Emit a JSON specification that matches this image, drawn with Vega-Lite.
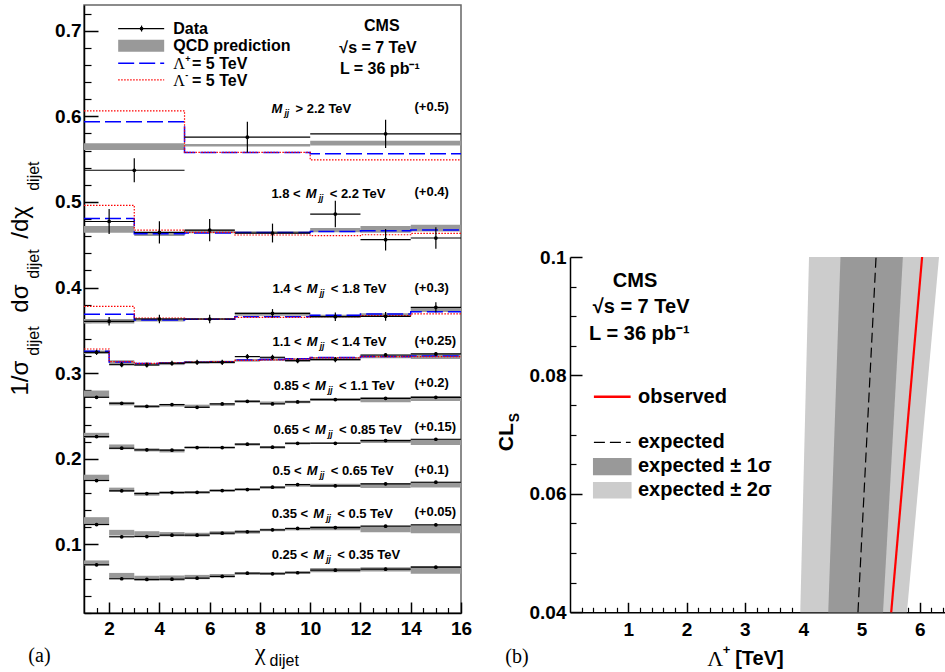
{
"$schema": "https://vega.github.io/schema/vega-lite/v6.json",
"padding": {"left": 8, "top": 4, "right": 0, "bottom": 0},
"bounds": "flush",
"spacing": 109,
"config": {
  "view": {"stroke": null},
  "axis": {"labelFont": "Liberation Sans", "labelFontWeight": "bold", "labelColor": "black", "grid": false, "tickColor": "black", "tickWidth": 1.2, "domainColor": "black", "domainWidth": 1.5, "labelFlush": false, "labelOverlap": false, "zindex": 1}
},
"datasets": {
  "chi": [
    {"bin":"gt2.2","lo":1,"hi":5,"mid":3,"val":0.537,"errLo":0.523,"errHi":0.551,"qcdLo":0.5606,"qcdHi":0.5686},
    {"bin":"gt2.2","lo":5,"hi":10,"mid":7.5,"val":0.5757,"errLo":0.5577,"errHi":0.5937,"qcdLo":0.5647,"qcdHi":0.5677},
    {"bin":"gt2.2","lo":10,"hi":16,"mid":13,"val":0.5796,"errLo":0.5631,"errHi":0.5961,"qcdLo":0.566,"qcdHi":0.5714},
    {"bin":"1.8-2.2","lo":1,"hi":3,"mid":2,"val":0.4772,"errLo":0.4626,"errHi":0.4918,"qcdLo":0.464,"qcdHi":0.472},
    {"bin":"1.8-2.2","lo":3,"hi":5,"mid":4,"val":0.4644,"errLo":0.4514,"errHi":0.4774,"qcdLo":0.4602,"qcdHi":0.4638},
    {"bin":"1.8-2.2","lo":5,"hi":7,"mid":6,"val":0.4672,"errLo":0.4542,"errHi":0.4802,"qcdLo":0.4636,"qcdHi":0.4676},
    {"bin":"1.8-2.2","lo":7,"hi":10,"mid":8.5,"val":0.4637,"errLo":0.4527,"errHi":0.4747,"qcdLo":0.4632,"qcdHi":0.4658},
    {"bin":"1.8-2.2","lo":10,"hi":12,"mid":11,"val":0.4859,"errLo":0.4704,"errHi":0.5014,"qcdLo":0.4645,"qcdHi":0.4695},
    {"bin":"1.8-2.2","lo":12,"hi":14,"mid":13,"val":0.4559,"errLo":0.4434,"errHi":0.4684,"qcdLo":0.464,"qcdHi":0.472},
    {"bin":"1.8-2.2","lo":14,"hi":16,"mid":15,"val":0.4579,"errLo":0.4454,"errHi":0.4704,"qcdLo":0.4655,"qcdHi":0.4735},
    {"bin":"1.4-1.8","lo":1,"hi":3,"mid":2,"val":0.3606,"errLo":0.3556,"errHi":0.3656,"qcdLo":0.3582,"qcdHi":0.3632},
    {"bin":"1.4-1.8","lo":3,"hi":5,"mid":4,"val":0.3633,"errLo":0.3583,"errHi":0.3683,"qcdLo":0.3605,"qcdHi":0.3645},
    {"bin":"1.4-1.8","lo":5,"hi":7,"mid":6,"val":0.3633,"errLo":0.3583,"errHi":0.3683,"qcdLo":0.3623,"qcdHi":0.3643},
    {"bin":"1.4-1.8","lo":7,"hi":10,"mid":8.5,"val":0.3699,"errLo":0.3649,"errHi":0.3749,"qcdLo":0.367,"qcdHi":0.371},
    {"bin":"1.4-1.8","lo":10,"hi":12,"mid":11,"val":0.366,"errLo":0.361,"errHi":0.371,"qcdLo":0.3647,"qcdHi":0.3683},
    {"bin":"1.4-1.8","lo":12,"hi":14,"mid":13,"val":0.3664,"errLo":0.3614,"errHi":0.3714,"qcdLo":0.366,"qcdHi":0.37},
    {"bin":"1.4-1.8","lo":14,"hi":16,"mid":15,"val":0.3769,"errLo":0.3709,"errHi":0.3829,"qcdLo":0.3715,"qcdHi":0.3765},
    {"bin":"1.1-1.4","lo":1,"hi":2,"mid":1.5,"val":0.3244,"errLo":0.3214,"errHi":0.3274,"qcdLo":0.3225,"qcdHi":0.3265},
    {"bin":"1.1-1.4","lo":2,"hi":3,"mid":2.5,"val":0.31,"errLo":0.307,"errHi":0.313,"qcdLo":0.3108,"qcdHi":0.3152},
    {"bin":"1.1-1.4","lo":3,"hi":4,"mid":3.5,"val":0.3096,"errLo":0.3066,"errHi":0.3126,"qcdLo":0.309,"qcdHi":0.312},
    {"bin":"1.1-1.4","lo":4,"hi":5,"mid":4.5,"val":0.3116,"errLo":0.3086,"errHi":0.3146,"qcdLo":0.3095,"qcdHi":0.3125},
    {"bin":"1.1-1.4","lo":5,"hi":6,"mid":5.5,"val":0.3127,"errLo":0.3097,"errHi":0.3157,"qcdLo":0.311,"qcdHi":0.314},
    {"bin":"1.1-1.4","lo":6,"hi":7,"mid":6.5,"val":0.3127,"errLo":0.3097,"errHi":0.3157,"qcdLo":0.3115,"qcdHi":0.3145},
    {"bin":"1.1-1.4","lo":7,"hi":8,"mid":7.5,"val":0.3194,"errLo":0.3164,"errHi":0.3224,"qcdLo":0.3135,"qcdHi":0.3165},
    {"bin":"1.1-1.4","lo":8,"hi":9,"mid":8.5,"val":0.3186,"errLo":0.3156,"errHi":0.3216,"qcdLo":0.3145,"qcdHi":0.3175},
    {"bin":"1.1-1.4","lo":9,"hi":10,"mid":9.5,"val":0.3147,"errLo":0.3117,"errHi":0.3177,"qcdLo":0.3135,"qcdHi":0.3175},
    {"bin":"1.1-1.4","lo":10,"hi":12,"mid":11,"val":0.3159,"errLo":0.3129,"errHi":0.3189,"qcdLo":0.315,"qcdHi":0.319},
    {"bin":"1.1-1.4","lo":12,"hi":14,"mid":13,"val":0.3213,"errLo":0.3193,"errHi":0.3233,"qcdLo":0.3175,"qcdHi":0.3215},
    {"bin":"1.1-1.4","lo":14,"hi":16,"mid":15,"val":0.3225,"errLo":0.3205,"errHi":0.3245,"qcdLo":0.3166,"qcdHi":0.3226},
    {"bin":"0.85-1.1","lo":1,"hi":2,"mid":1.5,"val":0.2719,"errLo":0.2704,"errHi":0.2734,"qcdLo":0.2718,"qcdHi":0.2798},
    {"bin":"0.85-1.1","lo":2,"hi":3,"mid":2.5,"val":0.2649,"errLo":0.2634,"errHi":0.2664,"qcdLo":0.2625,"qcdHi":0.2665},
    {"bin":"0.85-1.1","lo":3,"hi":4,"mid":3.5,"val":0.2614,"errLo":0.2599,"errHi":0.2629,"qcdLo":0.2595,"qcdHi":0.2625},
    {"bin":"0.85-1.1","lo":4,"hi":5,"mid":4.5,"val":0.2634,"errLo":0.2619,"errHi":0.2649,"qcdLo":0.261,"qcdHi":0.264},
    {"bin":"0.85-1.1","lo":5,"hi":6,"mid":5.5,"val":0.2602,"errLo":0.2587,"errHi":0.2617,"qcdLo":0.2597,"qcdHi":0.2633},
    {"bin":"0.85-1.1","lo":6,"hi":7,"mid":6.5,"val":0.2642,"errLo":0.2627,"errHi":0.2657,"qcdLo":0.262,"qcdHi":0.265},
    {"bin":"0.85-1.1","lo":7,"hi":8,"mid":7.5,"val":0.2672,"errLo":0.2657,"errHi":0.2687,"qcdLo":0.2655,"qcdHi":0.2685},
    {"bin":"0.85-1.1","lo":8,"hi":9,"mid":8.5,"val":0.2642,"errLo":0.2627,"errHi":0.2657,"qcdLo":0.264,"qcdHi":0.267},
    {"bin":"0.85-1.1","lo":9,"hi":10,"mid":9.5,"val":0.2665,"errLo":0.265,"errHi":0.268,"qcdLo":0.265,"qcdHi":0.268},
    {"bin":"0.85-1.1","lo":10,"hi":12,"mid":11,"val":0.2692,"errLo":0.2677,"errHi":0.2707,"qcdLo":0.268,"qcdHi":0.271},
    {"bin":"0.85-1.1","lo":12,"hi":14,"mid":13,"val":0.2707,"errLo":0.2692,"errHi":0.2722,"qcdLo":0.266,"qcdHi":0.272},
    {"bin":"0.85-1.1","lo":14,"hi":16,"mid":15,"val":0.2719,"errLo":0.2704,"errHi":0.2734,"qcdLo":0.2675,"qcdHi":0.2735},
    {"bin":"0.65-0.85","lo":1,"hi":2,"mid":1.5,"val":0.226,"errLo":0.2245,"errHi":0.2275,"qcdLo":0.2244,"qcdHi":0.2304},
    {"bin":"0.65-0.85","lo":2,"hi":3,"mid":2.5,"val":0.2124,"errLo":0.2109,"errHi":0.2139,"qcdLo":0.2112,"qcdHi":0.2168},
    {"bin":"0.65-0.85","lo":3,"hi":4,"mid":3.5,"val":0.2105,"errLo":0.209,"errHi":0.212,"qcdLo":0.2087,"qcdHi":0.2123},
    {"bin":"0.65-0.85","lo":4,"hi":5,"mid":4.5,"val":0.2101,"errLo":0.2086,"errHi":0.2116,"qcdLo":0.2075,"qcdHi":0.2115},
    {"bin":"0.65-0.85","lo":5,"hi":6,"mid":5.5,"val":0.2132,"errLo":0.2117,"errHi":0.2147,"qcdLo":0.2123,"qcdHi":0.2147},
    {"bin":"0.65-0.85","lo":6,"hi":7,"mid":6.5,"val":0.2132,"errLo":0.2117,"errHi":0.2147,"qcdLo":0.212,"qcdHi":0.2144},
    {"bin":"0.65-0.85","lo":7,"hi":8,"mid":7.5,"val":0.2171,"errLo":0.2156,"errHi":0.2186,"qcdLo":0.2155,"qcdHi":0.2185},
    {"bin":"0.65-0.85","lo":8,"hi":9,"mid":8.5,"val":0.2136,"errLo":0.2121,"errHi":0.2151,"qcdLo":0.212,"qcdHi":0.215},
    {"bin":"0.65-0.85","lo":9,"hi":10,"mid":9.5,"val":0.2182,"errLo":0.2167,"errHi":0.2197,"qcdLo":0.2168,"qcdHi":0.2192},
    {"bin":"0.65-0.85","lo":10,"hi":12,"mid":11,"val":0.2182,"errLo":0.2167,"errHi":0.2197,"qcdLo":0.2173,"qcdHi":0.2197},
    {"bin":"0.65-0.85","lo":12,"hi":14,"mid":13,"val":0.2214,"errLo":0.2199,"errHi":0.2229,"qcdLo":0.2185,"qcdHi":0.2225},
    {"bin":"0.65-0.85","lo":14,"hi":16,"mid":15,"val":0.2229,"errLo":0.2214,"errHi":0.2244,"qcdLo":0.2163,"qcdHi":0.2233},
    {"bin":"0.5-0.65","lo":1,"hi":2,"mid":1.5,"val":0.1747,"errLo":0.1732,"errHi":0.1762,"qcdLo":0.1745,"qcdHi":0.1815},
    {"bin":"0.5-0.65","lo":2,"hi":3,"mid":2.5,"val":0.1627,"errLo":0.1612,"errHi":0.1642,"qcdLo":0.1614,"qcdHi":0.1664},
    {"bin":"0.5-0.65","lo":3,"hi":4,"mid":3.5,"val":0.1595,"errLo":0.158,"errHi":0.161,"qcdLo":0.157,"qcdHi":0.161},
    {"bin":"0.5-0.65","lo":4,"hi":5,"mid":4.5,"val":0.1607,"errLo":0.1592,"errHi":0.1622,"qcdLo":0.159,"qcdHi":0.162},
    {"bin":"0.5-0.65","lo":5,"hi":6,"mid":5.5,"val":0.161,"errLo":0.1595,"errHi":0.1625,"qcdLo":0.1593,"qcdHi":0.1623},
    {"bin":"0.5-0.65","lo":6,"hi":7,"mid":6.5,"val":0.163,"errLo":0.1615,"errHi":0.1645,"qcdLo":0.1615,"qcdHi":0.1645},
    {"bin":"0.5-0.65","lo":7,"hi":8,"mid":7.5,"val":0.1642,"errLo":0.1627,"errHi":0.1657,"qcdLo":0.163,"qcdHi":0.166},
    {"bin":"0.5-0.65","lo":8,"hi":9,"mid":8.5,"val":0.1669,"errLo":0.1654,"errHi":0.1684,"qcdLo":0.165,"qcdHi":0.168},
    {"bin":"0.5-0.65","lo":9,"hi":10,"mid":9.5,"val":0.17,"errLo":0.1685,"errHi":0.1715,"qcdLo":0.1675,"qcdHi":0.1705},
    {"bin":"0.5-0.65","lo":10,"hi":12,"mid":11,"val":0.1685,"errLo":0.167,"errHi":0.17,"qcdLo":0.1672,"qcdHi":0.1708},
    {"bin":"0.5-0.65","lo":12,"hi":14,"mid":13,"val":0.1708,"errLo":0.1693,"errHi":0.1723,"qcdLo":0.166,"qcdHi":0.1716},
    {"bin":"0.5-0.65","lo":14,"hi":16,"mid":15,"val":0.1727,"errLo":0.1712,"errHi":0.1742,"qcdLo":0.1667,"qcdHi":0.1733},
    {"bin":"0.35-0.5","lo":1,"hi":2,"mid":1.5,"val":0.1233,"errLo":0.1218,"errHi":0.1248,"qcdLo":0.1233,"qcdHi":0.1319},
    {"bin":"0.35-0.5","lo":2,"hi":3,"mid":2.5,"val":0.109,"errLo":0.1075,"errHi":0.1105,"qcdLo":0.1105,"qcdHi":0.1171},
    {"bin":"0.35-0.5","lo":3,"hi":4,"mid":3.5,"val":0.1093,"errLo":0.1078,"errHi":0.1108,"qcdLo":0.1095,"qcdHi":0.1155},
    {"bin":"0.35-0.5","lo":4,"hi":5,"mid":4.5,"val":0.1109,"errLo":0.1094,"errHi":0.1124,"qcdLo":0.1095,"qcdHi":0.1145},
    {"bin":"0.35-0.5","lo":5,"hi":6,"mid":5.5,"val":0.1109,"errLo":0.1094,"errHi":0.1124,"qcdLo":0.1093,"qcdHi":0.1137},
    {"bin":"0.35-0.5","lo":6,"hi":7,"mid":6.5,"val":0.1132,"errLo":0.1117,"errHi":0.1147,"qcdLo":0.1115,"qcdHi":0.1155},
    {"bin":"0.35-0.5","lo":7,"hi":8,"mid":7.5,"val":0.1148,"errLo":0.1133,"errHi":0.1163,"qcdLo":0.1127,"qcdHi":0.1167},
    {"bin":"0.35-0.5","lo":8,"hi":9,"mid":8.5,"val":0.1171,"errLo":0.1156,"errHi":0.1186,"qcdLo":0.1155,"qcdHi":0.1185},
    {"bin":"0.35-0.5","lo":9,"hi":10,"mid":9.5,"val":0.1187,"errLo":0.1172,"errHi":0.1202,"qcdLo":0.1165,"qcdHi":0.1195},
    {"bin":"0.35-0.5","lo":10,"hi":12,"mid":11,"val":0.1198,"errLo":0.1183,"errHi":0.1213,"qcdLo":0.1165,"qcdHi":0.1215},
    {"bin":"0.35-0.5","lo":12,"hi":14,"mid":13,"val":0.1214,"errLo":0.1199,"errHi":0.1229,"qcdLo":0.1144,"qcdHi":0.121},
    {"bin":"0.35-0.5","lo":14,"hi":16,"mid":15,"val":0.123,"errLo":0.1215,"errHi":0.1245,"qcdLo":0.1132,"qcdHi":0.1222},
    {"bin":"0.25-0.35","lo":1,"hi":2,"mid":1.5,"val":0.0763,"errLo":0.0748,"errHi":0.0778,"qcdLo":0.0754,"qcdHi":0.0814},
    {"bin":"0.25-0.35","lo":2,"hi":3,"mid":2.5,"val":0.06,"errLo":0.0585,"errHi":0.0615,"qcdLo":0.0608,"qcdHi":0.0668},
    {"bin":"0.25-0.35","lo":3,"hi":4,"mid":3.5,"val":0.0592,"errLo":0.0577,"errHi":0.0607,"qcdLo":0.0575,"qcdHi":0.0635},
    {"bin":"0.25-0.35","lo":4,"hi":5,"mid":4.5,"val":0.0595,"errLo":0.058,"errHi":0.061,"qcdLo":0.0578,"qcdHi":0.0638},
    {"bin":"0.25-0.35","lo":5,"hi":6,"mid":5.5,"val":0.0607,"errLo":0.0592,"errHi":0.0622,"qcdLo":0.0595,"qcdHi":0.0645},
    {"bin":"0.25-0.35","lo":6,"hi":7,"mid":6.5,"val":0.0627,"errLo":0.0612,"errHi":0.0642,"qcdLo":0.0615,"qcdHi":0.0655},
    {"bin":"0.25-0.35","lo":7,"hi":8,"mid":7.5,"val":0.0665,"errLo":0.065,"errHi":0.068,"qcdLo":0.0645,"qcdHi":0.0675},
    {"bin":"0.25-0.35","lo":8,"hi":9,"mid":8.5,"val":0.0658,"errLo":0.0643,"errHi":0.0673,"qcdLo":0.0647,"qcdHi":0.0677},
    {"bin":"0.25-0.35","lo":9,"hi":10,"mid":9.5,"val":0.067,"errLo":0.0655,"errHi":0.0685,"qcdLo":0.066,"qcdHi":0.069},
    {"bin":"0.25-0.35","lo":10,"hi":12,"mid":11,"val":0.07,"errLo":0.0685,"errHi":0.0715,"qcdLo":0.0675,"qcdHi":0.0725},
    {"bin":"0.25-0.35","lo":12,"hi":14,"mid":13,"val":0.0712,"errLo":0.0697,"errHi":0.0727,"qcdLo":0.0685,"qcdHi":0.0735},
    {"bin":"0.25-0.35","lo":14,"hi":16,"mid":15,"val":0.0735,"errLo":0.072,"errHi":0.075,"qcdLo":0.0658,"qcdHi":0.0748}
  ],
  "lam": [
    {"series":"plus","bin":"gt2.2","chi":1,"val":0.5936},{"series":"plus","bin":"gt2.2","chi":5,"val":0.5578},{"series":"plus","bin":"gt2.2","chi":10,"val":0.5562},{"series":"plus","bin":"gt2.2","chi":16,"val":0.5562},
    {"series":"minus","bin":"gt2.2","chi":1,"val":0.6064},{"series":"minus","bin":"gt2.2","chi":5,"val":0.5578},{"series":"minus","bin":"gt2.2","chi":10,"val":0.5492},{"series":"minus","bin":"gt2.2","chi":16,"val":0.5492},
    {"series":"plus","bin":"1.8-2.2","chi":1,"val":0.4808},{"series":"plus","bin":"1.8-2.2","chi":3,"val":0.4629},{"series":"plus","bin":"1.8-2.2","chi":5,"val":0.4637},{"series":"plus","bin":"1.8-2.2","chi":7,"val":0.4644},{"series":"plus","bin":"1.8-2.2","chi":10,"val":0.4656},{"series":"plus","bin":"1.8-2.2","chi":12,"val":0.4664},{"series":"plus","bin":"1.8-2.2","chi":14,"val":0.4672},{"series":"plus","bin":"1.8-2.2","chi":16,"val":0.4672},
    {"series":"minus","bin":"1.8-2.2","chi":1,"val":0.496},{"series":"minus","bin":"1.8-2.2","chi":3,"val":0.4672},{"series":"minus","bin":"1.8-2.2","chi":5,"val":0.4644},{"series":"minus","bin":"1.8-2.2","chi":7,"val":0.4614},{"series":"minus","bin":"1.8-2.2","chi":10,"val":0.4606},{"series":"minus","bin":"1.8-2.2","chi":12,"val":0.4617},{"series":"minus","bin":"1.8-2.2","chi":14,"val":0.4633},{"series":"minus","bin":"1.8-2.2","chi":16,"val":0.4633},
    {"series":"plus","bin":"1.4-1.8","chi":1,"val":0.369},{"series":"plus","bin":"1.4-1.8","chi":3,"val":0.3622},{"series":"plus","bin":"1.4-1.8","chi":5,"val":0.3629},{"series":"plus","bin":"1.4-1.8","chi":7,"val":0.366},{"series":"plus","bin":"1.4-1.8","chi":10,"val":0.3676},{"series":"plus","bin":"1.4-1.8","chi":12,"val":0.3692},{"series":"plus","bin":"1.4-1.8","chi":14,"val":0.3719},{"series":"plus","bin":"1.4-1.8","chi":16,"val":0.3719},
    {"series":"minus","bin":"1.4-1.8","chi":1,"val":0.378},{"series":"minus","bin":"1.4-1.8","chi":3,"val":0.3645},{"series":"minus","bin":"1.4-1.8","chi":5,"val":0.3633},{"series":"minus","bin":"1.4-1.8","chi":7,"val":0.3653},{"series":"minus","bin":"1.4-1.8","chi":10,"val":0.366},{"series":"minus","bin":"1.4-1.8","chi":12,"val":0.3672},{"series":"minus","bin":"1.4-1.8","chi":14,"val":0.3692},{"series":"minus","bin":"1.4-1.8","chi":16,"val":0.3692},
    {"series":"plus","bin":"1.1-1.4","chi":1,"val":0.3256},{"series":"plus","bin":"1.1-1.4","chi":2,"val":0.313},{"series":"plus","bin":"1.1-1.4","chi":3,"val":0.3115},{"series":"plus","bin":"1.1-1.4","chi":4,"val":0.312},{"series":"plus","bin":"1.1-1.4","chi":5,"val":0.3127},{"series":"plus","bin":"1.1-1.4","chi":6,"val":0.3135},{"series":"plus","bin":"1.1-1.4","chi":7,"val":0.3155},{"series":"plus","bin":"1.1-1.4","chi":8,"val":0.316},{"series":"plus","bin":"1.1-1.4","chi":9,"val":0.317},{"series":"plus","bin":"1.1-1.4","chi":10,"val":0.3185},{"series":"plus","bin":"1.1-1.4","chi":12,"val":0.3195},{"series":"plus","bin":"1.1-1.4","chi":14,"val":0.32},{"series":"plus","bin":"1.1-1.4","chi":16,"val":0.32},
    {"series":"minus","bin":"1.1-1.4","chi":1,"val":0.3283},{"series":"minus","bin":"1.1-1.4","chi":2,"val":0.3135},{"series":"minus","bin":"1.1-1.4","chi":3,"val":0.3115},{"series":"minus","bin":"1.1-1.4","chi":4,"val":0.312},{"series":"minus","bin":"1.1-1.4","chi":5,"val":0.313},{"series":"minus","bin":"1.1-1.4","chi":6,"val":0.3135},{"series":"minus","bin":"1.1-1.4","chi":7,"val":0.315},{"series":"minus","bin":"1.1-1.4","chi":8,"val":0.3155},{"series":"minus","bin":"1.1-1.4","chi":9,"val":0.3165},{"series":"minus","bin":"1.1-1.4","chi":10,"val":0.318},{"series":"minus","bin":"1.1-1.4","chi":12,"val":0.3195},{"series":"minus","bin":"1.1-1.4","chi":14,"val":0.3195},{"series":"minus","bin":"1.1-1.4","chi":16,"val":0.3195}
  ],
  "massLabels": [
    {"mx":8.46,"y":0.6083,"pre":"","post":"> 2.2 TeV","off":"(+0.5)","offY":0.611},
    {"mx":9.82,"y":0.5092,"pre":"1.8 <","post":"< 2.2 TeV","off":"(+0.4)","offY":0.5119},
    {"mx":9.86,"y":0.3984,"pre":"1.4 <","post":"< 1.8 TeV","off":"(+0.3)","offY":0.3995},
    {"mx":9.86,"y":0.3361,"pre":"1.1 <","post":"< 1.4 TeV","off":"(+0.25)","offY":0.338},
    {"mx":10.19,"y":0.2855,"pre":"0.85 <","post":"< 1.1 TeV","off":"(+0.2)","offY":0.2882},
    {"mx":10.19,"y":0.2338,"pre":"0.65 <","post":"< 0.85 TeV","off":"(+0.15)","offY":0.2377},
    {"mx":9.86,"y":0.1855,"pre":"0.5 <","post":"< 0.65 TeV","off":"(+0.1)","offY":0.1871},
    {"mx":10.12,"y":0.1358,"pre":"0.35 <","post":"< 0.5 TeV","off":"(+0.05)","offY":0.1385},
    {"mx":10.12,"y":0.0872,"pre":"0.25 <","post":"< 0.35 TeV","off":"","offY":0.0872}
  ],
  "yTitle": [
    {"part":"big","y":0.2739,"t":"1/σ"},
    {"part":"small","y":0.3205,"t":"dijet"},
    {"part":"big","y":0.3707,"t":"dσ"},
    {"part":"small","y":0.4104,"t":"dijet"},
    {"part":"big","y":0.457,"t":"/dχ"},
    {"part":"small","y":0.513,"t":"dijet"}
  ],
  "cls": [
    {"y":0.04,"lo2":3.95,"hi2":5.78,"lo1":4.43,"hi1":5.37,"expected":4.94,"observed":5.51},
    {"y":0.1,"lo2":4.1,"hi2":6.33,"lo1":4.64,"hi1":5.71,"expected":5.25,"observed":6.04}
  ]
},
"hconcat": [
  {
    "width": 377,
    "height": 608,
    "view": {"stroke": "#666666", "strokeWidth": 1.5},
    "resolve": {"axis": {"x": "independent", "y": "independent"}},
    "layer": [
      {
        "data": {"name": "chi"},
        "mark": {"type": "rect", "color": "#999999"},
        "encoding": {
          "x": {"field": "lo", "type": "quantitative", "scale": {"domain": [1, 16], "nice": false, "zero": false},
                "axis": {"orient": "bottom", "values": [2,4,6,8,10,12,14,16], "ticks": false, "labelFontSize": 19, "labelPadding": 6, "title": null}},
          "x2": {"field": "hi"},
          "y": {"field": "qcdLo", "type": "quantitative", "scale": {"domain": [0.02, 0.73], "nice": false, "zero": false},
                "axis": {"orient": "left", "values": [0.1,0.2,0.3,0.4,0.5,0.6,0.7], "format": ".1f", "ticks": false, "labelFontSize": 19, "labelPadding": 3, "title": null}},
          "y2": {"field": "qcdHi"}
        }
      },
      {
        "data": {"name": "lam"},
        "transform": [{"filter": "datum.series === 'plus'"}],
        "mark": {"type": "line", "interpolate": "step-after", "color": "#0000ff", "strokeWidth": 1.5, "strokeDash": [16, 5]},
        "encoding": {
          "x": {"field": "chi", "type": "quantitative", "axis": null},
          "y": {"field": "val", "type": "quantitative", "axis": null},
          "detail": {"field": "bin"}
        }
      },
      {
        "data": {"name": "lam"},
        "transform": [{"filter": "datum.series === 'minus'"}],
        "mark": {"type": "line", "interpolate": "step-after", "color": "#ff0000", "strokeWidth": 1.2, "strokeDash": [1.5, 1.5]},
        "encoding": {
          "x": {"field": "chi", "type": "quantitative", "axis": null},
          "y": {"field": "val", "type": "quantitative", "axis": null},
          "detail": {"field": "bin"}
        }
      },
      {
        "data": {"name": "chi"},
        "mark": {"type": "rule", "color": "black", "strokeWidth": 1.2},
        "encoding": {
          "x": {"field": "lo", "type": "quantitative",
                "axis": {"orient": "bottom", "values": [2,4,6,8,10,12,14,16], "labels": false, "domain": false, "tickSize": -11, "tickWidth": 1.5, "title": null}},
          "x2": {"field": "hi"},
          "y": {"field": "val", "type": "quantitative",
                "axis": {"orient": "left", "values": [0.1,0.2,0.3,0.4,0.5,0.6,0.7], "labels": false, "domain": false, "tickSize": -14, "tickWidth": 1.5, "title": null}}
        }
      },
      {
        "data": {"name": "chi"},
        "mark": {"type": "rule", "color": "black", "strokeWidth": 1.2},
        "encoding": {
          "x": {"field": "mid", "type": "quantitative",
                "axis": {"orient": "bottom", "values": [1.5,2.5,3,3.5,4.5,5,5.5,6.5,7,7.5,8.5,9,9.5,10.5,11,11.5,12.5,13,13.5,14.5,15,15.5], "labels": false, "domain": false, "tickSize": -5.5, "title": null}},
          "y": {"field": "errLo", "type": "quantitative",
                "axis": {"orient": "left", "values": [0.02,0.04,0.06,0.08,0.12,0.14,0.16,0.18,0.22,0.24,0.26,0.28,0.32,0.34,0.36,0.38,0.42,0.44,0.46,0.48,0.52,0.54,0.56,0.58,0.62,0.64,0.66,0.68,0.72], "labels": false, "domain": false, "tickSize": -7, "title": null}},
          "y2": {"field": "errHi"}
        }
      },
      {
        "data": {"name": "chi"},
        "mark": {"type": "point", "filled": true, "color": "black", "size": 14, "opacity": 1},
        "encoding": {
          "x": {"field": "mid", "type": "quantitative", "axis": null},
          "y": {"field": "val", "type": "quantitative", "axis": null}
        }
      },
      {
        "data": {"values": [{"x": 2.36, "x2": 4.19, "y": 0.6753, "y2": 0.6893}]},
        "mark": {"type": "rect", "color": "#999999"},
        "encoding": {
          "x": {"field": "x", "type": "quantitative", "axis": null}, "x2": {"field": "x2"},
          "y": {"field": "y", "type": "quantitative", "axis": null}, "y2": {"field": "y2"}
        }
      },
      {
        "data": {"values": [{"x": 2.36, "x2": 4.19, "y": 0.7025}]},
        "mark": {"type": "rule", "color": "black", "strokeWidth": 1.2},
        "encoding": {
          "x": {"field": "x", "type": "quantitative", "axis": null}, "x2": {"field": "x2"},
          "y": {"field": "y", "type": "quantitative", "axis": null}
        }
      },
      {
        "data": {"values": [{"x": 3.29, "y": 0.699, "y2": 0.706}]},
        "mark": {"type": "rule", "color": "black", "strokeWidth": 1.2},
        "encoding": {
          "x": {"field": "x", "type": "quantitative", "axis": null},
          "y": {"field": "y", "type": "quantitative", "axis": null}, "y2": {"field": "y2"}
        }
      },
      {
        "data": {"values": [{"x": 3.29, "y": 0.7025}]},
        "mark": {"type": "point", "filled": true, "color": "black", "size": 14, "opacity": 1},
        "encoding": {
          "x": {"field": "x", "type": "quantitative", "axis": null},
          "y": {"field": "y", "type": "quantitative", "axis": null}
        }
      },
      {
        "data": {"values": [{"x": 2.36, "x2": 4.19, "y": 0.662}]},
        "mark": {"type": "rule", "color": "#0000ff", "strokeWidth": 1.5, "strokeDash": [16, 5]},
        "encoding": {
          "x": {"field": "x", "type": "quantitative", "axis": null}, "x2": {"field": "x2"},
          "y": {"field": "y", "type": "quantitative", "axis": null}
        }
      },
      {
        "data": {"values": [{"x": 2.36, "x2": 4.19, "y": 0.6426}]},
        "mark": {"type": "rule", "color": "#ff0000", "strokeWidth": 1.2, "strokeDash": [1.5, 1.5]},
        "encoding": {
          "x": {"field": "x", "type": "quantitative", "axis": null}, "x2": {"field": "x2"},
          "y": {"field": "y", "type": "quantitative", "axis": null}
        }
      },
      {
        "data": {"values": [{"x": 4.55, "y": 0.7025, "t": "Data"}, {"x": 4.55, "y": 0.6823, "t": "QCD prediction"}, {"x": 5.3, "y": 0.6609, "t": "= 5 TeV"}, {"x": 5.3, "y": 0.6414, "t": "= 5 TeV"}]},
        "mark": {"type": "text", "font": "Liberation Sans", "fontWeight": "bold", "fontSize": 16, "align": "left", "baseline": "middle", "color": "black"},
        "encoding": {
          "x": {"field": "x", "type": "quantitative", "axis": null},
          "y": {"field": "y", "type": "quantitative", "axis": null},
          "text": {"field": "t"}
        }
      },
      {
        "data": {"values": [{"x": 4.55, "y": 0.6609, "t": "Λ"}, {"x": 4.55, "y": 0.6414, "t": "Λ"}]},
        "mark": {"type": "text", "font": "Liberation Serif", "fontSize": 16, "align": "left", "baseline": "middle", "color": "black"},
        "encoding": {
          "x": {"field": "x", "type": "quantitative", "axis": null},
          "y": {"field": "y", "type": "quantitative", "axis": null},
          "text": {"field": "t"}
        }
      },
      {
        "data": {"values": [{"x": 5.03, "y": 0.6672, "t": "+"}, {"x": 5.03, "y": 0.6478, "t": "-"}]},
        "mark": {"type": "text", "font": "Liberation Sans", "fontWeight": "bold", "fontSize": 9, "align": "left", "baseline": "middle", "color": "black"},
        "encoding": {
          "x": {"field": "x", "type": "quantitative", "axis": null},
          "y": {"field": "y", "type": "quantitative", "axis": null},
          "text": {"field": "t"}
        }
      },
      {
        "data": {"values": [{"x": 12.85, "y": 0.7056, "t": "CMS"}, {"x": 12.7, "y": 0.6803, "t": "√s = 7 TeV"}, {"x": 12.77, "y": 0.6551, "t": "L = 36 pb⁻¹"}]},
        "mark": {"type": "text", "font": "Liberation Sans", "fontWeight": "bold", "fontSize": 16, "align": "center", "baseline": "middle", "color": "black"},
        "encoding": {
          "x": {"field": "x", "type": "quantitative", "axis": null},
          "y": {"field": "y", "type": "quantitative", "axis": null},
          "text": {"field": "t"}
        }
      },
      {
        "data": {"name": "massLabels"},
        "mark": {"type": "text", "font": "Liberation Sans", "fontWeight": "bold", "fontSize": 13, "align": "right", "baseline": "middle", "dx": -5, "color": "black"},
        "encoding": {
          "x": {"field": "mx", "type": "quantitative", "axis": null},
          "y": {"field": "y", "type": "quantitative", "axis": null},
          "text": {"field": "pre"}
        }
      },
      {
        "data": {"name": "massLabels"},
        "mark": {"type": "text", "font": "Liberation Sans", "fontWeight": "bold", "fontStyle": "italic", "fontSize": 13, "align": "left", "baseline": "middle", "color": "black"},
        "encoding": {
          "x": {"field": "mx", "type": "quantitative", "axis": null},
          "y": {"field": "y", "type": "quantitative", "axis": null},
          "text": {"value": "M"}
        }
      },
      {
        "data": {"name": "massLabels"},
        "mark": {"type": "text", "font": "Liberation Sans", "fontWeight": "bold", "fontStyle": "italic", "fontSize": 8.5, "align": "left", "baseline": "middle", "dx": 13, "dy": 4, "color": "black"},
        "encoding": {
          "x": {"field": "mx", "type": "quantitative", "axis": null},
          "y": {"field": "y", "type": "quantitative", "axis": null},
          "text": {"value": "jj"}
        }
      },
      {
        "data": {"name": "massLabels"},
        "mark": {"type": "text", "font": "Liberation Sans", "fontWeight": "bold", "fontSize": 13, "align": "left", "baseline": "middle", "dx": 24, "color": "black"},
        "encoding": {
          "x": {"field": "mx", "type": "quantitative", "axis": null},
          "y": {"field": "y", "type": "quantitative", "axis": null},
          "text": {"field": "post"}
        }
      },
      {
        "data": {"name": "massLabels"},
        "mark": {"type": "text", "font": "Liberation Sans", "fontWeight": "bold", "fontSize": 13, "align": "left", "baseline": "middle", "color": "black"},
        "encoding": {
          "x": {"datum": 14.15, "type": "quantitative", "axis": null},
          "y": {"field": "offY", "type": "quantitative", "axis": null},
          "text": {"field": "off"}
        }
      },
      {
        "data": {"name": "yTitle"},
        "transform": [{"filter": "datum.part === 'big'"}],
        "mark": {"type": "text", "font": "Liberation Sans", "fontSize": 24, "angle": 270, "align": "left", "baseline": "middle", "color": "black"},
        "encoding": {
          "x": {"datum": -1.49, "type": "quantitative", "axis": null},
          "y": {"field": "y", "type": "quantitative", "axis": null},
          "text": {"field": "t"}
        }
      },
      {
        "data": {"name": "yTitle"},
        "transform": [{"filter": "datum.part === 'small'"}],
        "mark": {"type": "text", "font": "Liberation Sans", "fontSize": 16, "angle": 270, "align": "left", "baseline": "middle", "color": "black"},
        "encoding": {
          "x": {"datum": -0.975, "type": "quantitative", "axis": null},
          "y": {"field": "y", "type": "quantitative", "axis": null},
          "text": {"field": "t"}
        }
      },
      {
        "data": {"values": [{"x": 8.02, "y": -0.0272, "t": "χ"}]},
        "mark": {"type": "text", "font": "Liberation Serif", "fontSize": 24, "align": "center", "baseline": "middle", "color": "black"},
        "encoding": {
          "x": {"field": "x", "type": "quantitative", "axis": null},
          "y": {"field": "y", "type": "quantitative", "axis": null},
          "text": {"field": "t"}
        }
      },
      {
        "data": {"values": [{"x": 8.38, "y": -0.0362, "t": "dijet"}]},
        "mark": {"type": "text", "font": "Liberation Sans", "fontSize": 16, "align": "left", "baseline": "middle", "color": "black"},
        "encoding": {
          "x": {"field": "x", "type": "quantitative", "axis": null},
          "y": {"field": "y", "type": "quantitative", "axis": null},
          "text": {"field": "t"}
        }
      },
      {
        "data": {"values": [{"x": -1.214, "y": -0.0307, "t": "(a)"}]},
        "mark": {"type": "text", "font": "Liberation Serif", "fontSize": 20, "align": "left", "baseline": "middle", "color": "black"},
        "encoding": {
          "x": {"field": "x", "type": "quantitative", "axis": null},
          "y": {"field": "y", "type": "quantitative", "axis": null},
          "text": {"field": "t"}
        }
      }
    ]
  },
  {
    "vconcat": [
      {
        "width": 376,
        "height": 231.7,
        "data": {"values": []},
        "mark": {"type": "text"},
        "encoding": {}
      },
      {
        "width": 376,
        "height": 355.3,
        "resolve": {"axis": {"x": "independent", "y": "independent"}},
        "layer": [
          {
            "data": {"name": "cls"},
            "mark": {"type": "area", "orient": "horizontal", "color": "#cccccc", "opacity": 1},
            "encoding": {
              "y": {"field": "y", "type": "quantitative", "scale": {"domain": [0.04, 0.1], "nice": false, "zero": false},
                    "axis": {"orient": "left", "values": [0.04, 0.06, 0.08, 0.1], "format": ".2~f", "ticks": false, "labelFontSize": 19, "labelPadding": 4, "title": null}},
              "x": {"field": "lo2", "type": "quantitative", "scale": {"domain": [0, 6.45], "nice": false, "zero": false},
                    "axis": {"orient": "bottom", "values": [1, 2, 3, 4, 5, 6], "ticks": false, "labelFontSize": 19, "labelPadding": 8, "title": null}},
              "x2": {"field": "hi2"}
            }
          },
          {
            "data": {"name": "cls"},
            "mark": {"type": "area", "orient": "horizontal", "color": "#999999", "opacity": 1},
            "encoding": {
              "y": {"field": "y", "type": "quantitative",
                    "axis": {"orient": "left", "values": [0.04, 0.06, 0.08, 0.1], "labels": false, "domain": false, "tickSize": -12, "tickWidth": 1.5, "title": null}},
              "x": {"field": "lo1", "type": "quantitative",
                    "axis": {"orient": "bottom", "values": [1, 2, 3, 4, 5, 6], "labels": false, "domain": false, "tickSize": -10, "tickWidth": 1.5, "title": null}},
              "x2": {"field": "hi1"}
            }
          },
          {
            "data": {"name": "cls"},
            "mark": {"type": "line", "color": "black", "strokeWidth": 1.2, "strokeDash": [10, 5]},
            "encoding": {
              "y": {"field": "y", "type": "quantitative",
                    "axis": {"orient": "left", "values": [0.045, 0.05, 0.055, 0.065, 0.07, 0.075, 0.085, 0.09, 0.095], "labels": false, "domain": false, "tickSize": -6, "title": null}},
              "x": {"field": "expected", "type": "quantitative",
                    "axis": {"orient": "bottom", "values": [0.2,0.4,0.6,0.8,1.2,1.4,1.6,1.8,2.2,2.4,2.6,2.8,3.2,3.4,3.6,3.8,4.2,4.4,4.6,4.8,5.2,5.4,5.6,5.8,6.2,6.4], "labels": false, "domain": false, "tickSize": -5, "title": null}},
              "order": {"field": "y"}
            }
          },
          {
            "data": {"name": "cls"},
            "mark": {"type": "line", "color": "#ff0000", "strokeWidth": 2.2},
            "encoding": {
              "y": {"field": "y", "type": "quantitative", "axis": null},
              "x": {"field": "observed", "type": "quantitative", "axis": null},
              "order": {"field": "y"}
            }
          },
          {
            "mark": {"type": "rule", "color": "black", "strokeWidth": 1, "strokeDash": [1, 1.5]},
            "encoding": {"y": {"datum": 0.05, "type": "quantitative", "axis": null}}
          },
          {
            "mark": {"type": "rule", "color": "#555555", "strokeWidth": 1.5},
            "encoding": {"y": {"datum": 0.1, "type": "quantitative", "axis": null}}
          },
          {
            "data": {"values": [{"x": 0.394, "x2": 1.056, "y": 0.06315, "y2": 0.06607}]},
            "mark": {"type": "rect", "color": "#999999"},
            "encoding": {
              "x": {"field": "x", "type": "quantitative", "axis": null}, "x2": {"field": "x2"},
              "y": {"field": "y", "type": "quantitative", "axis": null}, "y2": {"field": "y2"}
            }
          },
          {
            "data": {"values": [{"x": 0.394, "x2": 1.056, "y": 0.05922, "y2": 0.06202}]},
            "mark": {"type": "rect", "color": "#cccccc"},
            "encoding": {
              "x": {"field": "x", "type": "quantitative", "axis": null}, "x2": {"field": "x2"},
              "y": {"field": "y", "type": "quantitative", "axis": null}, "y2": {"field": "y2"}
            }
          },
          {
            "data": {"values": [{"x": 0.41, "x2": 1.04, "y": 0.0764}]},
            "mark": {"type": "rule", "color": "#ff0000", "strokeWidth": 2.5},
            "encoding": {
              "x": {"field": "x", "type": "quantitative", "axis": null}, "x2": {"field": "x2"},
              "y": {"field": "y", "type": "quantitative", "axis": null}
            }
          },
          {
            "data": {"values": [{"x": 0.41, "x2": 1.04, "y": 0.0687}]},
            "mark": {"type": "rule", "color": "black", "strokeWidth": 1.2, "strokeDash": [11, 5]},
            "encoding": {
              "x": {"field": "x", "type": "quantitative", "axis": null}, "x2": {"field": "x2"},
              "y": {"field": "y", "type": "quantitative", "axis": null}
            }
          },
          {
            "data": {"values": [{"x": 1.166, "y": 0.0764, "t": "observed"}, {"x": 1.166, "y": 0.0687, "t": "expected"}, {"x": 1.166, "y": 0.0647, "t": "expected ± 1σ"}, {"x": 1.166, "y": 0.0607, "t": "expected ± 2σ"}]},
            "mark": {"type": "text", "font": "Liberation Sans", "fontWeight": "bold", "fontSize": 20, "align": "left", "baseline": "middle", "color": "black"},
            "encoding": {
              "x": {"field": "x", "type": "quantitative", "axis": null},
              "y": {"field": "y", "type": "quantitative", "axis": null},
              "text": {"field": "t"}
            }
          },
          {
            "data": {"values": [{"x": 1.116, "y": 0.096, "t": "CMS"}, {"x": 1.22, "y": 0.0915, "t": "√s = 7 TeV"}, {"x": 1.19, "y": 0.087, "t": "L = 36 pb⁻¹"}]},
            "mark": {"type": "text", "font": "Liberation Sans", "fontWeight": "bold", "fontSize": 20, "align": "center", "baseline": "middle", "color": "black"},
            "encoding": {
              "x": {"field": "x", "type": "quantitative", "axis": null},
              "y": {"field": "y", "type": "quantitative", "axis": null},
              "text": {"field": "t"}
            }
          },
          {
            "data": {"values": [{"x": -1.075, "y": 0.0672, "t": "CL"}]},
            "mark": {"type": "text", "font": "Liberation Sans", "fontWeight": "bold", "fontSize": 21, "angle": 270, "align": "left", "baseline": "middle", "color": "black"},
            "encoding": {
              "x": {"field": "x", "type": "quantitative", "axis": null},
              "y": {"field": "y", "type": "quantitative", "axis": null},
              "text": {"field": "t"}
            }
          },
          {
            "data": {"values": [{"x": -0.95, "y": 0.0721, "t": "S"}]},
            "mark": {"type": "text", "font": "Liberation Sans", "fontWeight": "bold", "fontSize": 14, "angle": 270, "align": "left", "baseline": "middle", "color": "black"},
            "encoding": {
              "x": {"field": "x", "type": "quantitative", "axis": null},
              "y": {"field": "y", "type": "quantitative", "axis": null},
              "text": {"field": "t"}
            }
          },
          {
            "data": {"values": [{"x": -1.109, "y": 0.0324, "t": "(b)"}]},
            "mark": {"type": "text", "font": "Liberation Serif", "fontSize": 20, "align": "left", "baseline": "middle", "color": "black"},
            "encoding": {
              "x": {"field": "x", "type": "quantitative", "axis": null},
              "y": {"field": "y", "type": "quantitative", "axis": null},
              "text": {"field": "t"}
            }
          },
          {
            "data": {"values": [{"x": 2.353, "y": 0.0321, "t": "Λ"}]},
            "mark": {"type": "text", "font": "Liberation Serif", "fontSize": 22, "align": "left", "baseline": "middle", "color": "black"},
            "encoding": {
              "x": {"field": "x", "type": "quantitative", "axis": null},
              "y": {"field": "y", "type": "quantitative", "axis": null},
              "text": {"field": "t"}
            }
          },
          {
            "data": {"values": [{"x": 2.62, "y": 0.0337, "t": "+"}]},
            "mark": {"type": "text", "font": "Liberation Sans", "fontWeight": "bold", "fontSize": 13, "align": "left", "baseline": "middle", "color": "black"},
            "encoding": {
              "x": {"field": "x", "type": "quantitative", "axis": null},
              "y": {"field": "y", "type": "quantitative", "axis": null},
              "text": {"field": "t"}
            }
          },
          {
            "data": {"values": [{"x": 2.833, "y": 0.0321, "t": "[TeV]"}]},
            "mark": {"type": "text", "font": "Liberation Sans", "fontWeight": "bold", "fontSize": 20, "align": "left", "baseline": "middle", "color": "black"},
            "encoding": {
              "x": {"field": "x", "type": "quantitative", "axis": null},
              "y": {"field": "y", "type": "quantitative", "axis": null},
              "text": {"field": "t"}
            }
          }
        ]
      }
    ],
    "spacing": 20,
    "bounds": "flush"
  }
]
}
